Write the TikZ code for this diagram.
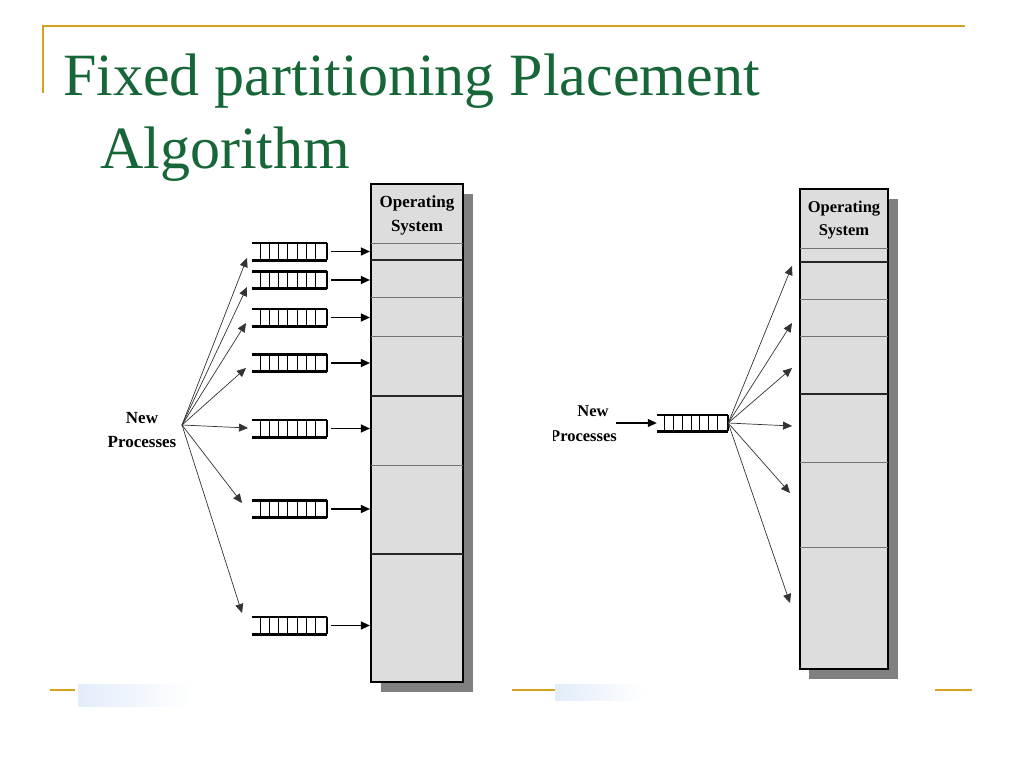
\documentclass[tikz,border=0pt]{standalone}
\usepackage{fontspec}
\setmainfont{Liberation Serif}
\usetikzlibrary{arrows.meta,shadows,calc}
\definecolor{titlegreen}{RGB}{22,102,56}
\definecolor{goldline}{RGB}{214,163,30}
\definecolor{memfill}{RGB}{221,221,221}
\definecolor{shadowgray}{RGB}{128,128,128}
\definecolor{paleblue}{RGB}{226,236,250}
\newcommand\drawqueue[1]{%
  \draw[qedge] (#1.north west) -- (#1.north east);
  \draw[qedge] (#1.south west) -- (#1.south east);
  \foreach \f in {0.11,0.235,0.355,0.48,0.6,0.725,0.85}
    \draw[qcell] ($(#1.north west)!\f!(#1.north east)$) -- ($(#1.south west)!\f!(#1.south east)$);
  \draw[qend] (#1.north east) -- (#1.south east);
}
\begin{document}
\begin{tikzpicture}[x=1pt,y=-1pt,
  membox/.style={draw=black, line width=2.2pt, fill=memfill, inner sep=0,
    drop shadow={shadow xshift=10pt, shadow yshift=-10pt, fill=shadowgray, opacity=1}},
  queue/.style={minimum width=75pt, minimum height=17pt, inner sep=0},
  qedge/.style={line width=2.6pt},
  qend/.style={line width=2.4pt},
  qcell/.style={line width=1pt},
  arr/.style={-{Triangle[length=9pt,width=8pt]}, line width=1.2pt},
  fan/.style={-{Triangle[length=9pt,width=8pt]}, line width=0.7pt, black!80},
  lbl/.style={font=\bfseries\fontsize{17}{24}\selectfont, align=center, inner sep=0},
  part/.style={line width=0.8pt, black!55, shorten <=1pt, shorten >=1pt},
  partd/.style={line width=1.2pt, black!85, shorten <=1pt, shorten >=1pt},
  titletext/.style={anchor=base west, inner sep=0, text=titlegreen, font=\fontsize{60}{72}\selectfont},
  goldrule/.style={goldline, line width=1.6pt}
]
\useasboundingbox (0,0) rectangle (1024,768);
\fill[white] (0,0) rectangle (1024,768);

% title
\draw[goldrule] (42,26) -- (965,26);
\draw[goldrule] (42.8,26) -- (42.8,93);
\node[titletext] (title1) at (63,95) {Fixed partitioning Placement};
\node[titletext] (title2) at (100,168) {Algorithm};

% bottom rules
\draw[goldrule] (50,690) -- (75,690);
\draw[goldrule] (512,690) -- (555,690);
\draw[goldrule] (935,690) -- (972,690);
\shade[left color=paleblue, right color=white] (78,684) rectangle (190,706);
\shade[left color=paleblue, right color=white] (555,684) rectangle (645,700);

% ---------- left diagram ----------
\node[membox, minimum width=92pt, minimum height=498pt] (m1) at (417,433) {};
\foreach \yy in {243,297,336,465}
  \draw[part] (m1.west |- 0,\yy) -- (m1.east |- 0,\yy);
\foreach \yy in {260,396,554}
  \draw[partd] (m1.west |- 0,\yy) -- (m1.east |- 0,\yy);
\node[lbl] (os1) at (417,215) {Operating\\System};

\node[queue] (q1) at (289.5,251.5) {};
\node[queue] (q2) at (289.5,280) {};
\node[queue] (q3) at (289.5,317.5) {};
\node[queue] (q4) at (289.5,363) {};
\node[queue] (q5) at (289.5,428.5) {};
\node[queue] (q6) at (289.5,509) {};
\node[queue] (q7) at (289.5,625.5) {};
\foreach \q in {q1,q2,q3,q4,q5,q6,q7} {
  \drawqueue{\q}
  \draw[arr, shorten <=4pt] (\q.east) -- (\q.east -| m1.west);
}

\node[lbl] (np1) at (142,430) {New\\Processes};
\coordinate (np) at (182,425);
\coordinate (t1) at (247,258);
\coordinate (t2) at (247,287);
\coordinate (t3) at (246,323);
\coordinate (t4) at (246,368);
\coordinate (t5) at (248,428);
\coordinate (t6) at (242,503);
\coordinate (t7) at (242,613);
\foreach \t in {t1,t2,t3,t4,t5,t6,t7}
  \draw[fan] (np) -- (\t);

% ---------- right diagram ----------
\node[membox, minimum width=88pt, minimum height=480pt,
  drop shadow={shadow xshift=9pt, shadow yshift=-10pt, fill=shadowgray, opacity=1}] (m2) at (844,429) {};
\foreach \yy in {248,299,336,462,547}
  \draw[part] (m2.west |- 0,\yy) -- (m2.east |- 0,\yy);
\foreach \yy in {262,394}
  \draw[partd] (m2.west |- 0,\yy) -- (m2.east |- 0,\yy);
\node[lbl, font=\bfseries\fontsize{16.5}{23}\selectfont] (os2) at (844,220) {Operating\\System};

\node[queue, minimum width=71pt, minimum height=16pt] (rq) at (692.5,423) {};
\drawqueue{rq}

\node[lbl, font=\bfseries\fontsize{16.5}{23}\selectfont] (new2) at (593,411) {New};
\begin{scope}
  \clip (553,420) rectangle (640,460);
  \node[lbl, font=\bfseries\fontsize{16.5}{23}\selectfont, anchor=east] (proc2) at (617,436) {Processes};
\end{scope}
\coordinate (npr) at (616,423);
\draw[arr] (npr) -- (rq.west);

\coordinate (u1) at (792,266);
\coordinate (u2) at (792,323);
\coordinate (u3) at (792,368);
\coordinate (u4) at (792,426);
\coordinate (u5) at (790,493);
\coordinate (u6) at (790,603);
\foreach \u in {u1,u2,u3,u4,u5,u6}
  \draw[fan] (rq.east) -- (\u);
\end{tikzpicture}
\end{document}
